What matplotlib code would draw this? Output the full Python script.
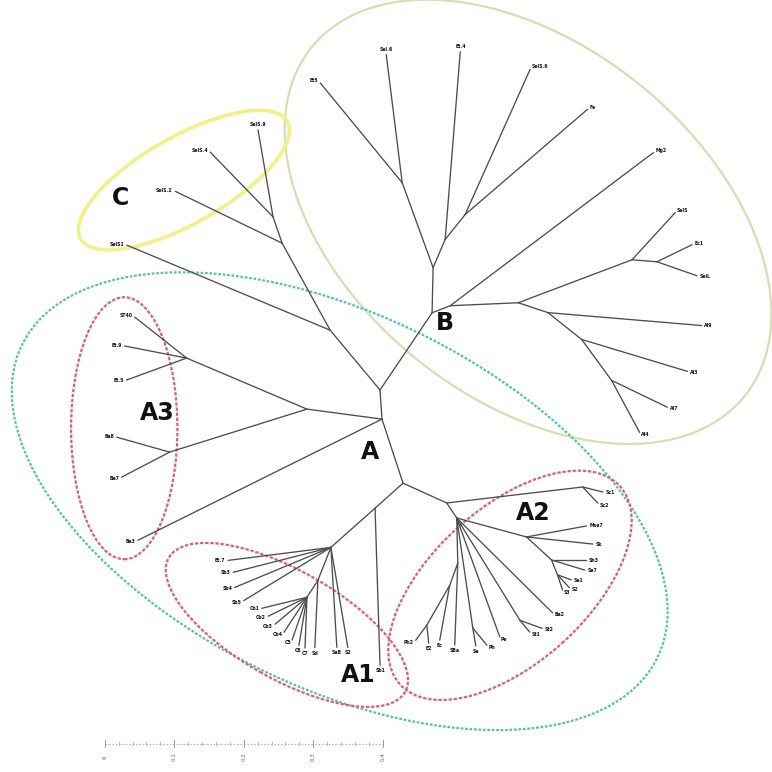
import numpy as np
import matplotlib
matplotlib.use("Agg")
import matplotlib.pyplot as plt
from matplotlib.patches import Ellipse

# Unrooted tree: each entry is (node, parent, branch length, branch direction in degrees)
# Internal nodes are named n*, everything else is a leaf.
clade_C = [
    ("n1", "root", 0.112, 129.8),
    ("SelS1", "n1", 0.317, 157.3),
    ("n2", "n1", 0.143, 118.9),
    ("SelS.2", "n2", 0.171, 154.1),
    ("n3", "n2", 0.040, 109.1),
    ("SelS.4", "n3", 0.130, 134.1),
    ("SelS.9", "n3", 0.127, 99.8),
]

clade_B_upper = [
    ("nB", "root", 0.134, 56.0),
    ("nB1", "nB", 0.065, 88.7),
    ("nB2", "nB1", 0.130, 110.0),
    ("Sel.6", "nB2", 0.186, 97.1),
    ("Et5", "nB2", 0.186, 129.4),
    ("nB3", "nB1", 0.044, 66.8),
    ("Et.4", "nB3", 0.271, 85.4),
    ("nB4", "nB3", 0.046, 51.3),
    ("SelS.6", "nB4", 0.229, 65.9),
    ("Fe", "nB4", 0.232, 40.7),
]

clade_B_lower = [
    ("nB5", "nB", 0.028, 21.3),
    ("Mg2", "nB5", 0.366, 37.0),
    ("nB6", "nB5", 0.098, 2.5),
    ("nB7", "nB6", 0.175, 20.7),
    ("SelS", "nB7", 0.092, 47.5),
    ("nB8", "nB7", 0.036, -4.6),
    ("Ec1", "nB8", 0.056, 25.9),
    ("SelL", "nB8", 0.061, -19.3),
    ("nB9", "nB6", 0.045, -18.4),
    ("Al9", "nB9", 0.222, -4.8),
    ("nB10", "nB9", 0.062, -38.5),
    ("Al3", "nB10", 0.159, -16.8),
    ("nB11", "nB10", 0.073, -53.8),
    ("Al7", "nB11", 0.089, -25.7),
    ("Al4", "nB11", 0.085, -61.7),
]

clade_A3 = [
    ("nA", "root", 0.042, -86.1),
    ("nA3", "nA", 0.109, 172.4),
    ("nA3a", "nA3", 0.188, 157.0),
    ("ST40", "nA3a", 0.095, 141.7),
    ("Et.9", "nA3a", 0.091, 169.0),
    ("Et.5", "nA3a", 0.092, -159.9),
    ("nA3b", "nA3", 0.207, -162.6),
    ("Ba8", "nA3b", 0.079, 164.2),
    ("Ba7", "nA3b", 0.078, -152.5),
    ("Ba3", "nA", 0.392, -153.6),
]

clade_A1 = [
    ("nA12", "nA", 0.097, -71.8),
    ("nA1s", "nA12", 0.054, -138.2),
    ("Sb1", "nA1s", 0.226, -88.2),
    ("nA1", "nA1s", 0.085, -138.4),
    ("Et.7", "nA1", 0.149, -172.8),
    ("Sb3", "nA1", 0.145, -165.7),
    ("Sb4", "nA1", 0.150, -157.4),
    ("Sb5", "nA1", 0.147, -148.6),
    ("SaB", "nA1", 0.144, -86.6),
    ("S2", "nA1", 0.146, -80.4),
    ("nA1b", "nA1", 0.051, -111.5),
    ("Sd", "nA1b", 0.097, -92.6),
    ("nA1c", "nA1b", 0.029, -122.9),
    ("Cb1", "nA1c", 0.067, -166.3),
    ("Cb2", "nA1c", 0.062, -154.0),
    ("Cb3", "nA1c", 0.060, -139.8),
    ("Cb4", "nA1c", 0.060, -123.3),
    ("C5", "nA1c", 0.065, -109.2),
    ("C6", "nA1c", 0.070, -99.5),
    ("C7", "nA1c", 0.073, -92.2),
]

clade_A2 = [
    ("nA2s", "nA12", 0.069, -24.4),
    ("nSc", "nA2s", 0.197, 6.7),
    ("Sc1", "nSc", 0.030, -14.0),
    ("Sc2", "nSc", 0.032, -46.8),
    ("nA2", "nA2s", 0.026, -56.3),
    ("nA2a", "nA2", 0.104, -15.2),
    ("Mse7", "nA2a", 0.088, 10.4),
    ("Sk", "nA2a", 0.096, -6.1),
    ("nA2b", "nA2a", 0.049, -42.6),
    ("Sh3", "nA2b", 0.050, 0.0),
    ("Se7", "nA2b", 0.050, -16.9),
    ("nA2c", "nA2b", 0.023, -68.2),
    ("Se1", "nA2c", 0.021, -19.7),
    ("S2", "nA2c", 0.025, -47.3),
    ("S3", "nA2c", 0.023, -71.6),
    ("Ba2", "nA2", 0.194, -44.7),
    ("nSt", "nA2", 0.173, -58.3),
    ("St1", "nSt", 0.022, -50.2),
    ("St2", "nSt", 0.034, -20.0),
    ("Pe", "nA2", 0.182, -70.1),
    ("nPh", "nA2", 0.160, -81.7),
    ("Ph", "nPh", 0.032, -50.5),
    ("Sa", "nPh", 0.026, -80.5),
    ("nA2d", "nA2", 0.065, -88.7),
    ("SBa", "nA2d", 0.118, -92.1),
    ("nA2e", "nA2d", 0.034, -110.0),
    ("Ec", "nA2e", 0.080, -100.3),
    ("nA2f", "nA2e", 0.066, -119.9),
    ("Ph2", "nA2f", 0.027, -126.3),
    ("E2", "nA2f", 0.026, -84.0),
]

# Clade outlines: (label, centre x, centre y, width, height, angle, colour, style, lw)
clade_rings = [
    ("B", 0.213, 0.242, 0.800, 0.509, -38.8, "#d9ddb0", "-", 1.6),
    ("C", -0.282, 0.302, 0.342, 0.125, 29.6, "#f3f08a", "-", 2.6),
    ("A", -0.058, -0.160, 1.019, 0.535, -26.3, "#52c3a6", (0, (1.2, 0.8)), 1.6),
    ("A3", -0.368, -0.055, 0.153, 0.377, 0.0, "#e0606a", (0, (1.5, 0.8)), 1.6),
    ("A1", -0.134, -0.338, 0.391, 0.156, -29.6, "#e0606a", (0, (1.5, 0.8)), 1.6),
    ("A2", 0.187, -0.281, 0.426, 0.224, 42.0, "#e0606a", (0, (1.5, 0.8)), 1.6),
]

# Clade letters: (text, x, y)
clade_letters = [
    ("A", -0.014, -0.089),
    ("B", 0.094, 0.096),
    ("C", -0.374, 0.276),
    ("A3", -0.321, -0.033),
    ("A2", 0.220, -0.177),
    ("A1", -0.032, -0.410),
]

scale_ticks = [0.0, 0.1, 0.2, 0.3, 0.4]
scale_origin = (-0.396, -0.509)

# ---- figure -----------------------------------------------------------
branches = clade_C + clade_B_upper + clade_B_lower + clade_A3 + clade_A1 + clade_A2
parents = set(b[1] for b in branches)

fig = plt.figure(figsize=(7.72, 7.72), dpi=100)
ax = fig.add_axes([0, 0, 1, 1])
unit = 695.0  # pixels per unit of branch length
ax.set_xlim(-380 / unit, 392 / unit)
ax.set_ylim(-382 / unit, 390 / unit)
ax.axis("off")

for label, cx, cy, w, h, ang, col, ls, lw in clade_rings:
    ax.add_patch(Ellipse((cx, cy), w, h, angle=ang, fill=False, edgecolor=col,
                         linestyle=ls, linewidth=lw, zorder=1))

# branches and leaf labels, laid out from the root outwards
node_pos = {"root": np.array([0.0, 0.0])}
for name, parent, length, ang in branches:
    t = np.deg2rad(ang)
    c, s = np.cos(t), np.sin(t)
    p0 = node_pos[parent]
    p1 = p0 + length * np.array([c, s])
    ax.plot([p0[0], p1[0]], [p0[1], p1[1]], color="#4d4d4d", lw=0.95,
            solid_capstyle="round", zorder=2)
    if name in parents:
        node_pos[name] = p1
        continue
    if abs(c) < 0.3:
        ha = "center"
        va = "bottom" if s > 0 else "top"
    else:
        ha = "left" if c > 0 else "right"
        va = "center"
    ax.annotate(name, xy=p1, xytext=(2.0 * c, 2.0 * s), textcoords="offset points",
                ha=ha, va=va, fontsize=3.3, fontweight="bold", color="#111111",
                zorder=3)

for text, x, y in clade_letters:
    ax.text(x, y, text, fontsize=17, fontweight="bold", ha="center", va="center",
            color="#111111", zorder=4)

# scale bar
x0, y0 = scale_origin
span = scale_ticks[-1] - scale_ticks[0]
ax.plot([x0, x0 + span], [y0, y0], color="#b9b9e3", lw=0.9, linestyle=(0, (1.5, 1.2)))
for v in np.arange(0, span + 1e-9, 0.02):
    ax.plot([x0 + v, x0 + v], [y0 - 0.002, y0 + 0.002], color="#a9a9d6", lw=0.6)
for v in scale_ticks:
    ax.plot([x0 + v, x0 + v], [y0 - 0.005, y0 + 0.005], color="#9a9ab0", lw=0.7)
    ax.text(x0 + v, y0 - 0.019, f"{v:g}", fontsize=4, rotation=90, ha="center",
            va="center", color="#666666")

fig.savefig("out.png", dpi=100, facecolor="white")
